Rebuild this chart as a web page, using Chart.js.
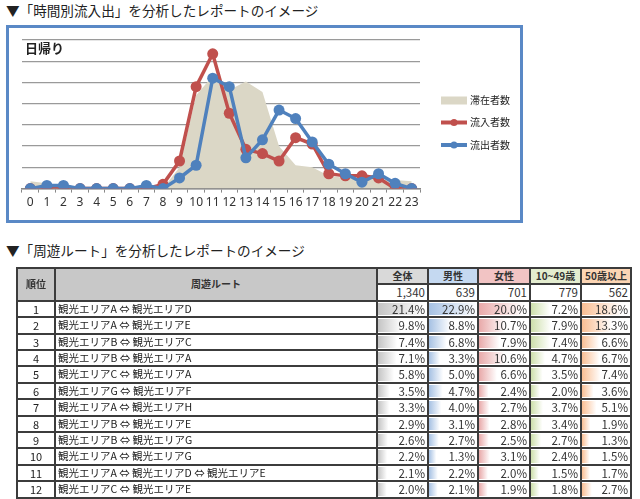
<!DOCTYPE html>
<html>
<head>
<meta charset="utf-8">
<script src="https://cdn.jsdelivr.net/npm/chart.js@4.4.1/dist/chart.umd.min.js"></script>
<style>
  body { margin: 0; background: #fff; font-family: "Noto Sans CJK JP", "Noto Sans", sans-serif; color: #222; width: 640px; height: 499px; overflow: hidden; position: relative; }
  .hd { position: absolute; left: 6px; font-size: 13.6px; line-height: 18px; white-space: nowrap; }
  #frame { position: absolute; left: 6px; top: 25px; width: 511px; height: 192px; border: 3px solid #5a89c6; }
  #title { position: absolute; left: 16px; top: 12px; font-weight: bold; font-size: 13px; line-height: 16px; }
  #chart { position: absolute; left: 0; top: 0; }
  table { position: absolute; left: 16px; top: 267px; width: 614px; border-collapse: collapse; table-layout: fixed; }
  td, th { border: 2px solid #3c3c3c; padding: 0 2px; height: 14.4px; line-height: 14.4px; white-space: nowrap; overflow: hidden; }
  th { font-size: 10px; font-weight: bold; color: #333; text-align: center; }
  td.rk { text-align: center; font-size: 11px; }
  td.rt { text-align: left; font-size: 10.5px; }
  td.v { text-align: right; font-size: 11.5px; color: #333; background-repeat: no-repeat; background-position: left center; }
</style>
</head>
<body>
<div class="hd" style="top:1px">▼「時間別流入出」を分析したレポートのイメージ</div>
<div id="frame">
  <canvas id="chart" width="511" height="192"></canvas>
  <div id="title">日帰り</div>
</div>
<div class="hd" style="top:241px">▼「周遊ルート」を分析したレポートのイメージ</div>
<table id="tbl"></table>

<script>
// chart data
const hours = ["0","1","2","3","4","5","6","7","8","9","10","11","12","13","14","15","16","17","18","19","20","21","22","23"];
const stayCount = [3.5, 2.5, 0, 0, 0, 0, 0, 0, 0, 10, 44, 53, 46.5, 50.5, 45.5, 20, 11, 10, 6, 5, 4.5, 4.5, 4, 3.5];
const inflow = [0, 0, 0, 0, 0, 0, 0, 0, 2, 13, 48, 63.5, 35.5, 18.5, 16.5, 13, 24, 21, 7, 6, 6, 5, 0, 0];
const outflow = [0, 1.5, 1.5, 0, 0, 0, 0, 1.5, 0, 5, 11, 52, 48, 14.5, 23, 37, 33, 22, 11.5, 7, 3, 7, 2.5, 0];
const seriesNames = ["滞在者数", "流入者数", "流出者数"];

// table data
const colLabels = ["全体", "男性", "女性", "10~49歳", "50歳以上"];
const colCounts = ["1,340", "639", "701", "779", "562"];
const ranks = [1, 2, 3, 4, 5, 6, 7, 8, 9, 10, 11, 12];
const routes = [
  "観光エリアA ⇔ 観光エリアD",
  "観光エリアA ⇔ 観光エリアE",
  "観光エリアB ⇔ 観光エリアC",
  "観光エリアB ⇔ 観光エリアA",
  "観光エリアC ⇔ 観光エリアA",
  "観光エリアG ⇔ 観光エリアF",
  "観光エリアA ⇔ 観光エリアH",
  "観光エリアB ⇔ 観光エリアE",
  "観光エリアB ⇔ 観光エリアG",
  "観光エリアA ⇔ 観光エリアG",
  "観光エリアA ⇔ 観光エリアD ⇔ 観光エリアE",
  "観光エリアC ⇔ 観光エリアE"
];
const allPct = [21.4, 9.8, 7.4, 7.1, 5.8, 3.5, 3.3, 2.9, 2.6, 2.2, 2.1, 2.0];
const malePct = [22.9, 8.8, 6.8, 3.3, 5.0, 4.7, 4.0, 3.1, 2.7, 1.3, 2.2, 2.1];
const femalePct = [20.0, 10.7, 7.9, 10.6, 6.6, 2.4, 2.7, 2.8, 2.5, 3.1, 2.0, 1.9];
const youngPct = [7.2, 7.9, 7.4, 4.7, 3.5, 2.0, 3.7, 3.4, 2.7, 2.4, 1.5, 1.8];
const oldPct = [18.6, 13.3, 6.6, 6.7, 7.4, 3.6, 5.1, 1.9, 1.3, 1.5, 1.7, 2.7];

const RED = "#c0504d";
const BLUE = "#4f81bd";
const BEIGE = "#dbd7c6";

const legendPlugin = {
  id: "sideLegend",
  afterDraw(chart) {
    const ctx = chart.ctx;
    const x0 = chart.chartArea.right + 21;
    const ys = [72.5, 94.5, 117];
    ctx.save();
    seriesNames.forEach((name, i) => {
      const ds = chart.data.datasets.find(d => d.label === name);
      const y = ys[i];
      if (i === 0) {
        ctx.fillStyle = ds.backgroundColor;
        ctx.fillRect(x0, y - 4, 26, 8);
      } else {
        ctx.strokeStyle = ds.borderColor;
        ctx.lineWidth = 4;
        ctx.beginPath();
        ctx.moveTo(x0, y);
        ctx.lineTo(x0 + 26, y);
        ctx.stroke();
        ctx.fillStyle = ds.borderColor;
        ctx.beginPath();
        ctx.arc(x0 + 13, y, 3.5, 0, Math.PI * 2);
        ctx.fill();
      }
      ctx.fillStyle = "#222";
      ctx.font = "10px 'Noto Sans CJK JP'";
      ctx.textBaseline = "middle";
      ctx.fillText(ds.label, x0 + 29, y);
    });
    ctx.restore();
  }
};

new Chart(document.getElementById("chart"), {
  type: "line",
  data: {
    labels: hours,
    datasets: [
      {
        label: seriesNames[2],
        data: outflow,
        borderColor: BLUE,
        backgroundColor: BLUE,
        borderWidth: 3.5,
        pointRadius: 5.5,
        pointBackgroundColor: BLUE,
        pointBorderWidth: 0,
        tension: 0,
        order: 1
      },
      {
        label: seriesNames[1],
        data: inflow,
        borderColor: RED,
        backgroundColor: RED,
        borderWidth: 3.5,
        pointRadius: 5.5,
        pointBackgroundColor: RED,
        pointBorderWidth: 0,
        tension: 0,
        order: 2
      },
      {
        label: seriesNames[0],
        data: stayCount,
        borderWidth: 0,
        borderColor: BEIGE,
        backgroundColor: BEIGE,
        pointRadius: 0,
        fill: "origin",
        tension: 0,
        order: 3
      }
    ]
  },
  options: {
    responsive: false,
    animation: false,
    layout: { padding: { left: 13, right: 100, top: 12, bottom: 7 } },
    plugins: { legend: { display: false }, tooltip: { enabled: false } },
    scales: {
      x: {
        offset: true,
        grid: { display: true, offset: true, drawOnChartArea: false, drawTicks: true, tickLength: 4, color: "#888" },
        border: { display: true, color: "#888", width: 1.5 },
        ticks: { color: "#333", font: { family: "Noto Sans", size: 12 }, padding: 3, maxRotation: 0, autoSkip: false }
      },
      y: {
        min: 0,
        max: 70,
        ticks: { display: false, stepSize: 10 },
        grid: { color: "#9a9a9a", lineWidth: 1.3, drawTicks: false },
        border: { display: false }
      }
    }
  },
  plugins: [legendPlugin]
});

// table
const colData = [allPct, malePct, femalePct, youngPct, oldPct];
const headBg = ["#d9d9d9", "#c5d9f1", "#f2c4c4", "#e4edcf", "#fcd5b4"];
const barColor = ["#c4c4c4", "#a6c1e3", "#e8a9a9", "#cddfab", "#f9be93"];
const barMax = Math.max(...colData.flat());

const tbl = document.getElementById("tbl");
let html = '<colgroup><col style="width:38px"><col style="width:322px">' +
  '<col style="width:51px"><col style="width:50px"><col style="width:52px"><col style="width:51px"><col style="width:50px"></colgroup>';
html += '<tr><th rowspan="2" style="background:#c8c8c8">順位</th><th rowspan="2" style="background:#c8c8c8">周遊ルート</th>';
colLabels.forEach((l, i) => { html += `<th style="background:${headBg[i]}">${l}</th>`; });
html += '</tr><tr>';
colCounts.forEach(c => { html += `<td class="v">${c}</td>`; });
html += '</tr>';
ranks.forEach((r, ri) => {
  html += `<tr><td class="rk">${r}</td><td class="rt">${routes[ri]}</td>`;
  colData.forEach((arr, ci) => {
    const v = arr[ri];
    const w = 10 + 90 * v / barMax;
    html += `<td class="v" style="background-image:linear-gradient(to right, ${barColor[ci]}, #fff);background-size:${w.toFixed(1)}% calc(100% - 2px)">${v.toFixed(1)}%</td>`;
  });
  html += '</tr>';
});
tbl.innerHTML = html;
</script>
</body>
</html>
